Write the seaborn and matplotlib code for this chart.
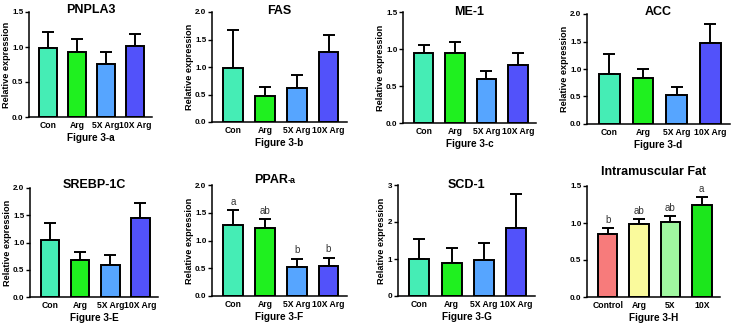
import matplotlib
matplotlib.use("Agg")
import numpy as np
import pandas as pd
import matplotlib.pyplot as plt
import seaborn as sns

# ─── Data ────────────────────────────────────────────────────────────────────
groups = ["Con", "Arg", "5X Arg", "10X Arg"]
groups_h = ["Control", "Arg", "5X", "10X"]

pnpla3_mean = [0.98, 0.93, 0.76, 1.02]
pnpla3_top = [1.22, 1.12, 0.93, 1.19]
fas_mean = [0.99, 0.47, 0.61, 1.27]
fas_top = [1.67, 0.63, 0.85, 1.58]
me1_mean = [0.94, 0.95, 0.59, 0.79]
me1_top = [1.05, 1.09, 0.70, 0.94]
acc_mean = [0.91, 0.84, 0.52, 1.48]
acc_top = [1.28, 1.00, 0.68, 1.82]
srebp_mean = [1.05, 0.68, 0.59, 1.45]
srebp_top = [1.35, 0.83, 0.77, 1.72]
ppar_mean = [1.28, 1.23, 0.53, 0.54]
ppar_top = [1.55, 1.38, 0.67, 0.69]
ppar_letters = ["a", "ab", "b", "b"]
scd1_mean = [1.00, 0.90, 0.98, 1.85]
scd1_top = [1.53, 1.31, 1.44, 2.77]
imf_mean = [0.85, 0.98, 1.01, 1.24]
imf_top = [0.93, 1.05, 1.09, 1.35]
imf_letters = ["b", "ab", "ab", "a"]

gene_colors = ["#45EDB5", "#1FF01F", "#56A5FF", "#5252FA"]
imf_colors = ["#F77B7B", "#FAFA9C", "#A0F7A0", "#1CE61C"]

W, H = 731, 329

sns.set_theme(style="ticks")
plt.rcParams["font.family"] = ["Liberation Sans", "DejaVu Sans"]
plt.rcParams.update({"text.color": "black", "axes.labelcolor": "black",
                     "xtick.color": "black", "ytick.color": "black"})

fig = plt.figure(figsize=(W / 100, H / 100), dpi=100)


def px_axes(x0, y0, x1, y1):
    return fig.add_axes([x0 / W, 1 - y1 / H, (x1 - x0) / W, (y1 - y0) / H])


def px_title(ax, text, base_y, size=9):
    # title baseline placed at a pixel row, centred over the axes
    bb = ax.get_position()
    fig.text(bb.x0 + bb.width / 2, 1 - base_y / H, text, ha="center",
             va="baseline", fontsize=size, fontweight="bold")


def panel(ax, cats, means, tops, colors, xlabel, ymax, yticks,
          ylabel="Relative expression", letters=None):
    df = pd.DataFrame({"group": cats, "value": means})
    sns.barplot(data=df, x="group", y="value", hue="group", palette=colors,
                legend=False, width=0.62, edgecolor="black", linewidth=1.4,
                saturation=1, errorbar=None, ax=ax, zorder=2)
    err = np.array(tops) - np.array(means)
    ax.errorbar(range(len(cats)), means, yerr=[np.zeros(len(cats)), err],
                fmt="none", ecolor="black", elinewidth=1.4, capsize=4,
                capthick=1.4, zorder=1)
    ax.set_xlim(-0.66, len(cats) - 0.42)
    ax.set_ylim(0, ymax)
    ax.set_yticks(yticks)
    if ymax >= 3:
        ax.set_yticklabels([f"{t:.0f}" for t in yticks])
    else:
        ax.set_yticklabels([f"{t:.1f}" for t in yticks])
    ax.set_xlabel(xlabel, fontsize=7.2, fontweight="bold", labelpad=2)
    ax.set_ylabel(ylabel, fontsize=6.6, fontweight="bold", labelpad=1)
    ax.tick_params(axis="y", labelsize=5.8, length=3, width=1, pad=1)
    ax.tick_params(axis="x", labelsize=6.2, length=0, pad=3)
    for lab in ax.get_xticklabels() + ax.get_yticklabels():
        lab.set_fontweight("bold")
    for s in ["left", "bottom"]:
        ax.spines[s].set_linewidth(1.1)
        ax.spines[s].set_color("black")
    sns.despine(ax=ax)
    if letters:
        for i, (t, l) in enumerate(zip(tops, letters)):
            ax.text(i, t + ymax * 0.03, l, ha="center", va="bottom",
                    fontsize=7, color="#333333")


t15 = [0, 0.5, 1.0, 1.5]
t20 = [0, 0.5, 1.0, 1.5, 2.0]

ax1 = px_axes(29, 12, 152, 117)
panel(ax1, groups, pnpla3_mean, pnpla3_top, gene_colors, "Figure 3-a", 1.5, t15)
px_title(ax1, "PNPLA3", 13)

ax2 = px_axes(212, 12, 347, 122)
panel(ax2, groups, fas_mean, fas_top, gene_colors, "Figure 3-b", 2.0, t20)
px_title(ax2, "FAS", 14)

ax3 = px_axes(403, 12, 536, 123)
panel(ax3, groups, me1_mean, me1_top, gene_colors, "Figure 3-c", 1.5, t15)
px_title(ax3, "ME-1", 15)

ax4 = px_axes(587, 14, 730, 124)
panel(ax4, groups, acc_mean, acc_top, gene_colors, "Figure 3-d", 2.0, t20)
px_title(ax4, "ACC", 15)

ax5 = px_axes(30, 188, 158, 297)
panel(ax5, groups, srebp_mean, srebp_top, gene_colors, "Figure 3-E", 2.0, t20)
px_title(ax5, "SREBP-1C", 188)

ax6 = px_axes(212, 185, 347, 296)
panel(ax6, groups, ppar_mean, ppar_top, gene_colors, "Figure 3-F", 2.0, t20,
      letters=ppar_letters)
ax6.text(0.56, 1.02, "PPAR", transform=ax6.transAxes, ha="right",
         va="baseline", fontsize=9, fontweight="bold")
ax6.text(0.56, 1.02, "-a", transform=ax6.transAxes, ha="left",
         va="baseline", fontsize=6.5, fontweight="bold")

ax7 = px_axes(398, 185, 535, 296)
panel(ax7, groups, scd1_mean, scd1_top, gene_colors, "Figure 3-G", 3,
      [0, 1, 2, 3])
px_title(ax7, "SCD-1", 188)

ax8 = px_axes(587, 186, 720, 297)
panel(ax8, groups_h, imf_mean, imf_top, imf_colors, "Figure 3-H", 1.5, t15,
      ylabel="", letters=imf_letters)
px_title(ax8, "Intramuscular Fat", 175)

fig.savefig("out.png", dpi=100)
